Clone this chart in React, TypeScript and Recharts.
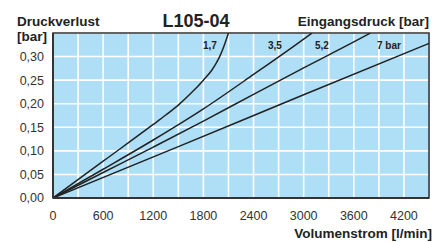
import React from 'react';
import { ComposedChart, Line, XAxis, YAxis, CartesianGrid, ReferenceArea } from 'recharts';

const xTicks = [0, 300, 600, 900, 1200, 1500, 1800, 2100, 2400, 2700, 3000, 3300, 3600, 3900, 4200, 4500];
const yTicks = [0, 0.05, 0.1, 0.15, 0.2, 0.25, 0.3, 0.35];

const flow17 = [0, 600, 1200, 1350, 1500, 1650, 1800, 1900, 1950, 2000, 2050, 2100];
const loss17 = [0, 0.078, 0.156, 0.176, 0.197, 0.222, 0.25, 0.271, 0.285, 0.302, 0.324, 0.35];

const flow35 = [0, 600, 1200, 1800, 2400, 3000, 3100];
const loss35 = [0, 0.061, 0.123, 0.189, 0.262, 0.337, 0.35];

const flow52 = [0, 600, 1200, 1800, 2400, 3000, 3600, 3800];
const loss52 = [0, 0.054, 0.108, 0.163, 0.22, 0.276, 0.331, 0.35];

const flow70 = [0, 1500, 3000, 4500];
const loss70 = [0, 0.109, 0.219, 0.328];

const seriesLabels = ['1,7', '3,5', '5,2', '7 bar'];

const toRows = (xs: number[], ys: number[]) => xs.map((x, i) => ({ x, y: ys[i] }));

const FONT = '"Liberation Sans", Arial, Helvetica, sans-serif';
const INK = '#222222';

export default function App() {
  const series = [
    toRows(flow17, loss17),
    toRows(flow35, loss35),
    toRows(flow52, loss52),
    toRows(flow70, loss70),
  ];
  const fmtX = (v: number) => (v % 600 === 0 && v <= 4200 ? String(v) : '');
  const fmtY = (v: number) => (v >= 0.349 ? '' : v.toFixed(2).replace('.', ','));
  return (
    <div style={{ position: 'absolute', left: 0, top: 0, width: 444, height: 242, background: '#fff', fontFamily: FONT }}>
      <ComposedChart width={444} height={242} margin={{ top: 33, right: 15, bottom: 0, left: 0 }}>
        <CartesianGrid fill="#AEDFF7" stroke="#ffffff" strokeWidth={1.6} />
        <XAxis
          type="number"
          dataKey="x"
          domain={[0, 4500]}
          ticks={xTicks}
          tickFormatter={fmtX}
          interval={0}
          height={44}
          tickLine={false}
          tickSize={0}
          tickMargin={13}
          axisLine={{ stroke: '#333', strokeWidth: 2 }}
          tick={{ fill: '#333', fontSize: 12.5, fontFamily: FONT }}
          allowDataOverflow
        />
        <YAxis
          type="number"
          dataKey="y"
          domain={[0, 0.35]}
          ticks={yTicks}
          tickFormatter={fmtY}
          interval={0}
          width={53}
          tickLine={false}
          tickSize={0}
          tickMargin={9}
          axisLine={{ stroke: '#333', strokeWidth: 2 }}
          tick={{ fill: '#333', fontSize: 12.5, fontFamily: FONT }}
          allowDataOverflow
        />
        <ReferenceArea x1={0} x2={4500} y1={0} y2={0.35} fill="none" fillOpacity={0} stroke="#333" strokeWidth={1.6} ifOverflow="visible" />
        {series.map((d, i) => (
          <Line
            key={seriesLabels[i]}
            data={d}
            dataKey="y"
            type="monotone"
            stroke={INK}
            strokeWidth={1.5}
            dot={false}
            activeDot={false}
            isAnimationActive={false}
          />
        ))}
      </ComposedChart>
      <svg width={444} height={242} style={{ position: 'absolute', left: 0, top: 0, pointerEvents: 'none' }}>
        <g fontFamily={FONT} fontWeight="bold" fill={INK}>
          <text x={17} y={26} fontSize={13.5}>Druckverlust</text>
          <text x={17} y={41} fontSize={13.5}>[bar]</text>
          <text x={196} y={26.5} fontSize={18} textAnchor="middle">L105-04</text>
          <text x={429} y={26} fontSize={13.5} textAnchor="end">Eingangsdruck [bar]</text>
          <text x={432} y={238} fontSize={13.5} textAnchor="end">Volumenstrom [l/min]</text>
          <text x={203} y={48.5} fontSize={10}>{seriesLabels[0]}</text>
          <text x={268} y={48.5} fontSize={10}>{seriesLabels[1]}</text>
          <text x={315} y={48.5} fontSize={10}>{seriesLabels[2]}</text>
          <text x={377} y={48.5} fontSize={10}>{seriesLabels[3]}</text>
        </g>
      </svg>
    </div>
  );
}
